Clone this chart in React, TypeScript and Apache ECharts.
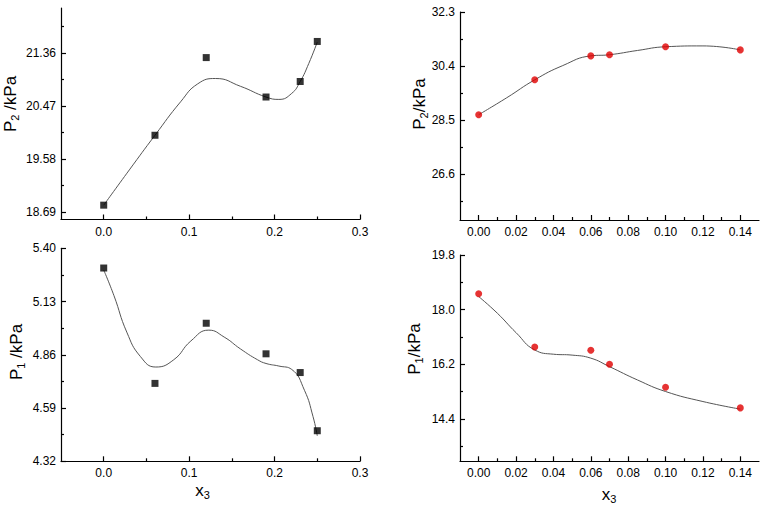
import React, { useEffect, useRef } from "react";
import * as echarts from "echarts";

// ---- data ----
const x3Left = [0, 0.06, 0.12, 0.19, 0.23, 0.25];
const p2Left = [18.81, 19.98, 21.28, 20.62, 20.88, 21.55];
const p1Left = [5.3, 4.715, 5.02, 4.865, 4.77, 4.475];

const fitX_p2Left = [0, 0.03, 0.06, 0.09, 0.11, 0.131, 0.16, 0.19, 0.205, 0.22, 0.23, 0.24, 0.25];
const fitY_p2Left = [18.81, 19.4, 19.98, 20.54, 20.84, 20.93, 20.8, 20.62, 20.58, 20.68, 20.88, 21.18, 21.54];

const fitX_p1Left = [0, 0.012, 0.027, 0.043, 0.061, 0.082, 0.102, 0.123, 0.141, 0.16, 0.18, 0.19, 0.205, 0.22, 0.235, 0.245, 0.25];
const fitY_p1Left = [5.29, 5.16, 4.975, 4.851, 4.798, 4.835, 4.93, 4.985, 4.95, 4.89, 4.835, 4.816, 4.803, 4.786, 4.68, 4.547, 4.449];

const x3Right = [0, 0.03, 0.06, 0.07, 0.1, 0.14];
const p2Right = [28.695, 29.92, 30.76, 30.8, 31.08, 30.97];
const p1Right = [18.52, 16.77, 16.66, 16.2, 15.44, 14.76];

const fitX_p2Right = [0, 0.015, 0.03, 0.045, 0.06, 0.07, 0.085, 0.1, 0.12, 0.14];
const fitY_p2Right = [28.695, 29.29, 29.92, 30.42, 30.76, 30.8, 30.95, 31.08, 31.11, 30.97];

const fitX_p1Right = [0, 0.01, 0.02, 0.03, 0.04, 0.05, 0.06, 0.07, 0.085, 0.1, 0.12, 0.14];
const fitY_p1Right = [18.43, 17.88, 17.24, 16.67, 16.53, 16.5, 16.4, 16.12, 15.68, 15.3, 14.97, 14.72];

// tick labels
const xTicksLeft = [0, 0.1, 0.2, 0.3];
const xMinorLeft = [0.05, 0.15, 0.25];
const xTicksRight = [0, 0.02, 0.04, 0.06, 0.08, 0.1, 0.12, 0.14];
const xMinorRight = [0.01, 0.03, 0.05, 0.07, 0.09, 0.11, 0.13];

const yTicksTL = [18.69, 19.58, 20.47, 21.36];
const yMinorTL = [19.135, 20.025, 20.915, 21.805];
const yTicksBL = [4.32, 4.59, 4.86, 5.13, 5.4];
const yMinorBL = [4.455, 4.725, 4.995, 5.265];
const yTicksTR = [26.6, 28.5, 30.4, 32.3];
const yMinorTR = [25.65, 27.55, 29.45, 31.35];
const yTicksBR = [14.4, 16.2, 18.0, 19.8];
const yMinorBR = [13.5, 15.3, 17.1, 18.9];

const FONT = "Liberation Sans, Arial, sans-serif";

function zip(xs: number[], ys: number[]) {
  return xs.map((x, i) => [x, ys[i]]);
}

function mainAxis(
  dim: "x" | "y",
  grid: number,
  min: number,
  max: number,
  ticks: number[],
  dec: number,
  extra: any = {}
) {
  return {
    type: "value",
    gridIndex: grid,
    min,
    max,
    position: dim === "x" ? "bottom" : "left",
    axisLine: { show: true, onZero: false, lineStyle: { color: "#000", width: 1.2 } },
    axisTick: { show: true, inside: true, length: 5, customValues: ticks, lineStyle: { color: "#000", width: 1.2 } },
    axisLabel: {
      show: true,
      customValues: ticks,
      formatter: (v: number) => Number(v).toFixed(dec),
      color: "#000",
      fontSize: 12,
      fontFamily: FONT,
      margin: dim === "x" ? 6 : 5,
      showMinLabel: true,
      showMaxLabel: true,
    },
    splitLine: { show: false },
    ...extra,
  };
}

function minorAxis(dim: "x" | "y", grid: number, min: number, max: number, ticks: number[]) {
  return {
    type: "value",
    gridIndex: grid,
    min,
    max,
    position: dim === "x" ? "bottom" : "left",
    axisLine: { show: false, onZero: false },
    axisTick: { show: true, inside: true, length: 3, customValues: ticks, lineStyle: { color: "#000", width: 1.2 } },
    axisLabel: { show: false },
    splitLine: { show: false },
  };
}

const richStyle = {
  a: { fontSize: 17, fontFamily: FONT, color: "#000", lineHeight: 20 },
  b: { fontSize: 11, fontFamily: FONT, color: "#000", padding: [9, 0, 0, 0] },
};

function xName(gap: number, spacer: number) {
  return {
    name: `{a|x}{b|3}{s| }`,
    nameLocation: "middle",
    nameGap: gap,
    nameTextStyle: {
      rich: { ...richStyle, s: { width: spacer, fontSize: 17, lineHeight: 20 } },
    },
  };
}

function yTitle(sub: string, sep: string, x: number, y: number) {
  return {
    type: "text",
    x,
    y,
    rotation: Math.PI / 2,
    style: {
      text: `{a|P}{b|${sub}}{a|${sep}kPa}`,
      rich: richStyle,
      align: "center",
      verticalAlign: "middle",
    },
  };
}

export default function App() {
  const ref = useRef<HTMLDivElement>(null);
  useEffect(() => {
    document.body.style.margin = "0";
    if (!ref.current) return;
    const chart = echarts.init(ref.current, null, { renderer: "svg" });

    const grids = [
      { left: 61, top: 8, width: 299, height: 211.5 },
      { left: 61, top: 248.3, width: 299, height: 213 },
      { left: 460, top: 12, width: 299, height: 208 },
      { left: 460, top: 255, width: 299, height: 206.3 },
    ].map((g) => ({ ...g, containLabel: false }));

    const xAxis = [
      mainAxis("x", 0, -0.05, 0.3, xTicksLeft, 1),
      mainAxis("x", 1, -0.05, 0.3, xTicksLeft, 1, xName(19, 16)),
      mainAxis("x", 2, -0.01, 0.15, xTicksRight, 2),
      mainAxis("x", 3, -0.01, 0.15, xTicksRight, 2, xName(23, 1)),
      minorAxis("x", 0, -0.05, 0.3, xMinorLeft),
      minorAxis("x", 1, -0.05, 0.3, xMinorLeft),
      minorAxis("x", 2, -0.01, 0.15, xMinorRight),
      minorAxis("x", 3, -0.01, 0.15, xMinorRight),
    ];
    const yAxis = [
      mainAxis("y", 0, 18.57, 22.11, yTicksTL, 2),
      mainAxis("y", 1, 4.32, 5.4, yTicksBL, 2),
      mainAxis("y", 2, 25.0, 32.3, yTicksTR, 1),
      mainAxis("y", 3, 13.0, 19.8, yTicksBR, 1),
      minorAxis("y", 0, 18.57, 22.11, yMinorTL),
      minorAxis("y", 1, 4.32, 5.4, yMinorBL),
      minorAxis("y", 2, 25.0, 32.3, yMinorTR),
      minorAxis("y", 3, 13.0, 19.8, yMinorBR),
    ];

    const fitLine = (idx: number, data: number[][]) => ({
      type: "line",
      xAxisIndex: idx,
      yAxisIndex: idx,
      data,
      smooth: 0.5,
      showSymbol: false,
      symbol: "none",
      lineStyle: { color: "#555", width: 1 },
      z: 2,
      silent: true,
    });
    const pts = (idx: number, data: number[][], square: boolean) => ({
      type: "scatter",
      xAxisIndex: idx,
      yAxisIndex: idx,
      data,
      symbol: square ? "rect" : "circle",
      symbolSize: 7,
      itemStyle: { color: square ? "#000" : "#e00000" },
      z: 3,
    });

    chart.setOption({
      animation: false,
      backgroundColor: "#fff",
      grid: grids,
      xAxis,
      yAxis,
      graphic: [
        yTitle("2", " /", 10, 104),
        yTitle("1", " /", 16, 352),
        yTitle("2", "/", 419, 104),
        yTitle("1", "/", 414, 349),
      ],
      series: [
        fitLine(0, zip(fitX_p2Left, fitY_p2Left)),
        pts(0, zip(x3Left, p2Left), true),
        fitLine(1, zip(fitX_p1Left, fitY_p1Left)),
        pts(1, zip(x3Left, p1Left), true),
        fitLine(2, zip(fitX_p2Right, fitY_p2Right)),
        pts(2, zip(x3Right, p2Right), false),
        fitLine(3, zip(fitX_p1Right, fitY_p1Right)),
        pts(3, zip(x3Right, p1Right), false),
      ],
    });
    return () => chart.dispose();
  }, []);
  return <div ref={ref} style={{ width: 765, height: 511 }} />;
}
